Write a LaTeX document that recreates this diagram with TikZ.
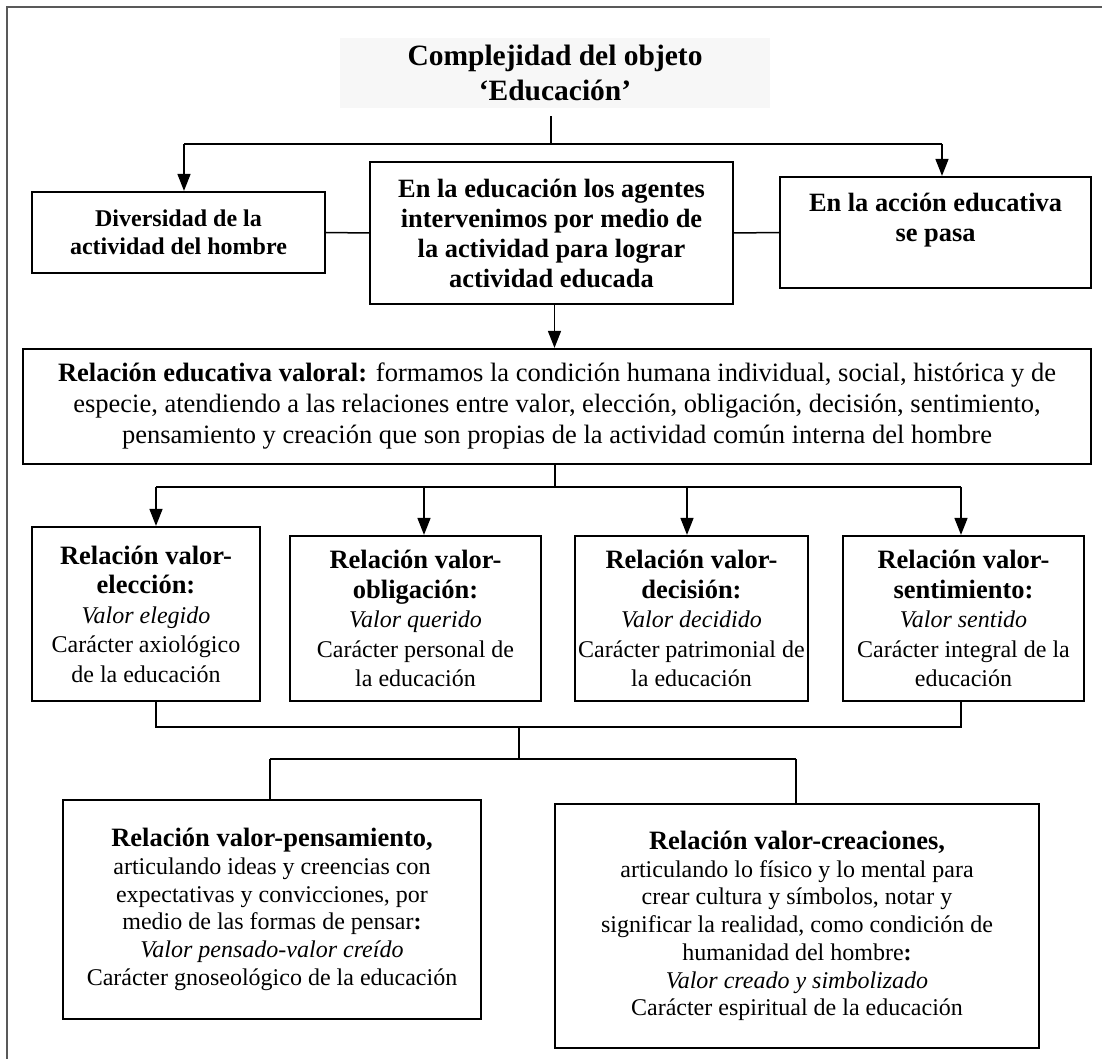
\documentclass[tikz,border=0pt]{standalone}
\usepackage{fontspec}
\setmainfont{Liberation Serif}
\usetikzlibrary{arrows.meta}
\newcommand{\cabeza}{\fontsize{26.5}{29.5}\selectfont\bfseries}

\begin{document}
\begin{tikzpicture}[%
                x=1pt, y=-1pt,
                mybox/.style={draw, line width=2.2pt, align=center, inner sep=2pt},
                myline/.style={line width=1.5pt},
                myarrow/.style={line width=1.5pt, -{Triangle[length=17pt, width=13pt]}},
                chico/.style={font=\fontsize{24}{29.5}\selectfont},
                bajo/.style={font=\fontsize{24}{27.7}\selectfont}
            ]
            \useasboundingbox (0,0) rectangle (1102,1059);
            \draw [line width=1.5pt, black!65] (1102,7) -- (7,7) -- (7,1059);

            \node [fill=black!3, minimum width=430pt, minimum height=70pt, align=center,
                font=\fontsize{29.5}{35}\selectfont\bfseries] (titulo) at (555,73)
                {Complejidad del objeto\\ `Educación'};

            \node [mybox, minimum width=293pt, minimum height=81pt,
                font=\fontsize{24}{28.5}\selectfont\bfseries] (diversidad) at (178.5,232.5)
                {Diversidad de la\\ actividad del hombre};
            \node [mybox, minimum width=363pt, minimum height=142pt,
                font=\fontsize{26.4}{30}\selectfont\bfseries] (agentes) at (551.5,233)
                {En la educación los agentes\\ intervenimos por medio de\\ la actividad para lograr\\ actividad educada};
            \node [mybox, minimum width=311pt, minimum height=111pt] (accion) at (935.5,232.5) {};
            \node [align=center, font=\fontsize{26.4}{30}\selectfont\bfseries] (acciontxt)
                at ([yshift=12pt]accion.center) {En la acción educativa\\ se pasa};

            \node [mybox, minimum width=1068pt, minimum height=115pt,
                font=\fontsize{26.5}{31}\selectfont] (valoral) at (557,406.5)
                {\textbf{Relación educativa valoral:} formamos la condición humana individual, social, histórica y de\\
                 especie, atendiendo a las relaciones entre valor, elección, obligación, decisión, sentimiento,\\
                 pensamiento y creación que son propias de la actividad común interna del hombre};

            \node [mybox, chico, minimum width=228pt, minimum height=174pt] (eleccion) at (146,614)
                {{\cabeza Relación valor-}\\ {\cabeza elección:}\\ \textit{Valor elegido}\\ Carácter axiológico\\ de la educación};
            \node [mybox, chico, minimum width=251pt, minimum height=165pt] (obligacion) at (415.5,618.5)
                {{\cabeza Relación valor-}\\ {\cabeza obligación:}\\ \textit{Valor querido}\\ Carácter personal de\\ la educación};
            \node [mybox, chico, minimum width=233pt, minimum height=165pt] (decision) at (691.5,618.5)
                {{\cabeza Relación valor-}\\ {\cabeza decisión:}\\ \textit{Valor decidido}\\ Carácter patrimonial de\\ la educación};
            \node [mybox, chico, minimum width=241pt, minimum height=165pt] (sentimiento) at (963.5,618.5)
                {{\cabeza Relación valor-}\\ {\cabeza sentimiento:}\\ \textit{Valor sentido}\\ Carácter integral de la\\ educación};

            \node [mybox, bajo, minimum width=418pt, minimum height=219pt] (pensamiento) at (272,909.5)
                {{\cabeza Relación valor-pensamiento,}\\ articulando ideas y creencias con\\ expectativas y convicciones, por\\
                 medio de las formas de pensar\textbf{:}\\ \textit{Valor pensado-valor creído}\\ Carácter gnoseológico de la educación};
            \node [mybox, bajo, minimum width=484pt, minimum height=244pt] (creaciones) at (797,926)
                {{\cabeza Relación valor-creaciones,}\\ articulando lo físico y lo mental para\\ crear cultura y símbolos, notar y\\
                 significar la realidad, como condición de\\ humanidad del hombre\textbf{:}\\ \textit{Valor creado y simbolizado}\\
                 Carácter espiritual de la educación};

            \coordinate (r1) at (551,144);
            \coordinate (r1l) at (184,144);
            \coordinate (r1r) at (942,144);
            \draw [myline] ([yshift=-8pt]titulo.south -| r1) -- (r1);
            \draw [myline] (r1l) -- (r1r);
            \draw [myarrow] (r1l) -- (r1l |- diversidad.north);
            \draw [myarrow] (r1r) -- (r1r |- accion.north);
            \draw [myline] (diversidad.east) -- (agentes.west);
            \draw [myline] (agentes.east) -- (accion.west);
            \draw [myarrow] ([xshift=3pt]agentes.south) -- ([xshift=3pt]agentes.south |- valoral.north);

            \coordinate (r2) at (555,487);
            \coordinate (r2l) at (156,487);
            \coordinate (r2r) at (961,487);
            \draw [myline] (valoral.south -| r2) -- (r2);
            \draw [myline] (r2l) -- (r2r);
            \foreach \myx/\myname in {156/eleccion, 424/obligacion, 687/decision, 961/sentimiento}
            {
                \coordinate (a) at (\myx,487);
                \draw [myarrow] (a) -- (a |- \myname.north);
            }

            \coordinate (u1) at (156,727);
            \coordinate (u2) at (519,727);
            \coordinate (u4) at (961,727);
            \coordinate (v2) at (519,759);
            \coordinate (v1) at (270,759);
            \coordinate (v3) at (796,759);
            \draw [myline] (u1 |- eleccion.south) -- (u1) -- (u4) -- (u4 |- sentimiento.south);
            \draw [myline] (u2) -- (v2);
            \draw [myline] (v1) -- (v3);
            \draw [myline] (v1) -- (v1 |- pensamiento.north);
            \draw [myline] (v3) -- (v3 |- creaciones.north);
        \end{tikzpicture}
\end{document}
